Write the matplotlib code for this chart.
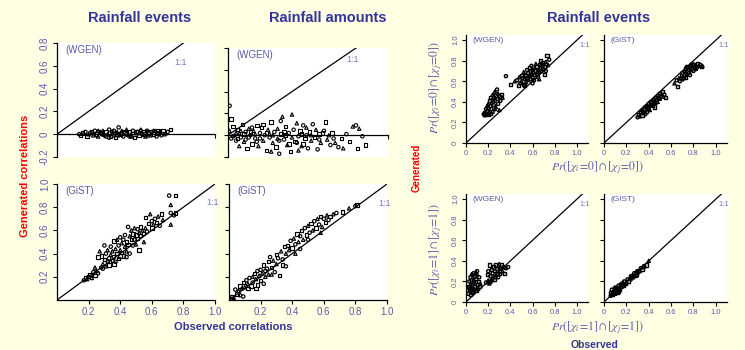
import matplotlib
matplotlib.use("Agg")
from matplotlib import pyplot as plt
from matplotlib.ticker import FuncFormatter
import numpy as np

plt.rcParams['font.family'] = ['Liberation Sans', 'DejaVu Sans']
plt.rcParams['mathtext.fontset'] = 'stix'

# ---- data ----
ev_wgen = [(0.14,0.00),(0.15,-0.01),(0.17,0.01),(0.18,0.02),(0.19,-0.02),(0.20,0.00),(0.21,0.01),(0.22,0.02),
           (0.23,-0.01),(0.24,0.03),(0.25,0.00),(0.26,-0.02),(0.27,0.02),(0.28,0.01),(0.29,0.03),(0.30,-0.01),
           (0.31,0.02),(0.32,0.00),(0.33,0.04),(0.34,-0.02),(0.35,0.01),(0.36,0.03),(0.37,-0.03),(0.38,0.02),
           (0.39,0.06),(0.40,0.00),(0.41,0.03),(0.42,-0.02),(0.43,0.01),(0.44,0.04),(0.45,-0.01),(0.46,0.02),
           (0.47,0.00),(0.48,0.03),(0.49,-0.03),(0.50,0.01),(0.51,0.02),(0.52,-0.01),(0.53,0.04),(0.54,0.00),
           (0.55,0.02),(0.56,-0.02),(0.57,0.03),(0.58,0.01),(0.59,-0.01),(0.60,0.02),(0.61,0.00),(0.62,0.03),
           (0.63,-0.02),(0.64,0.01),(0.65,0.02),(0.66,-0.01),(0.67,0.03),(0.68,0.00),(0.70,0.02),(0.72,0.04),
           (0.26,0.03),(0.33,-0.03),(0.41,0.01),(0.47,-0.02),(0.53,0.03),(0.58,0.02),(0.36,-0.01),(0.44,0.00),
           (0.50,0.02),(0.29,0.00),(0.39,-0.01),(0.55,0.00),(0.61,0.03),(0.35,0.02),(0.16,0.01),(0.23,0.01),
           (0.31,-0.02),(0.43,0.02),(0.52,0.01),(0.57,-0.01),(0.64,0.03),(0.69,0.01),(0.46,-0.02),(0.38,0.00)]

am_wgen = [(0.01,0.27),(0.02,0.15),(0.01,0.04),(0.02,-0.03),(0.03,0.08),(0.04,0.00),(0.05,-0.05),(0.06,0.05),
           (0.07,0.02),(0.08,-0.02),(0.09,0.10),(0.10,-0.06),(0.11,0.03),(0.12,-0.12),(0.13,0.06),(0.14,0.00),
           (0.15,-0.08),(0.16,0.04),(0.17,-0.03),(0.18,0.09),(0.19,-0.10),(0.20,0.02),(0.21,0.07),(0.22,-0.05),
           (0.23,0.00),(0.24,-0.14),(0.25,0.05),(0.26,-0.02),(0.27,0.12),(0.28,-0.07),(0.29,0.03),(0.30,-0.11),
           (0.31,0.06),(0.32,-0.17),(0.33,0.01),(0.34,0.17),(0.35,-0.04),(0.36,0.08),(0.37,-0.09),(0.38,0.02),
           (0.39,-0.15),(0.40,0.19),(0.41,0.05),(0.42,-0.06),(0.43,0.11),(0.44,-0.01),(0.45,0.04),(0.46,-0.10),
           (0.47,0.09),(0.48,-0.03),(0.49,0.07),(0.50,-0.12),(0.51,0.03),(0.52,-0.05),(0.53,0.10),(0.54,-0.02),
           (0.55,0.05),(0.56,-0.13),(0.57,0.01),(0.58,-0.07),(0.60,0.04),(0.61,0.12),(0.62,-0.04),(0.64,-0.09),
           (0.65,0.02),(0.67,-0.07),(0.69,-0.11),(0.71,-0.03),(0.72,-0.12),(0.74,0.01),(0.76,-0.06),(0.78,0.08),
           (0.80,0.09),(0.81,-0.12),(0.82,0.06),(0.84,-0.01),(0.86,-0.09),(0.07,-0.10),(0.15,0.07),(0.22,0.10),
           (0.27,-0.15),(0.33,0.13),(0.38,-0.08),(0.44,-0.14),(0.49,0.00),(0.36,0.00),(0.26,0.01),(0.18,-0.06),
           (0.10,0.01),(0.05,0.02),(0.13,-0.02),(0.47,-0.08),(0.31,-0.03),(0.03,-0.01),(0.06,-0.03),(0.08,0.04),
           (0.11,-0.04),(0.14,0.03),(0.17,0.01),(0.20,-0.03),(0.24,0.02),(0.28,0.00),(0.32,-0.05),(0.35,0.03),
           (0.40,-0.02),(0.43,-0.07),(0.46,0.01),(0.52,0.00),(0.57,-0.04),(0.59,0.02),(0.63,0.00),(0.66,-0.03)]

ev_gist = [(0.17,0.17),(0.18,0.19),(0.19,0.18),(0.20,0.20),(0.21,0.22),(0.22,0.19),(0.23,0.24),(0.24,0.21),
           (0.25,0.25),(0.26,0.23),(0.26,0.37),(0.27,0.42),(0.28,0.28),(0.28,0.38),(0.29,0.31),(0.30,0.47),
           (0.30,0.35),(0.31,0.29),(0.31,0.40),(0.32,0.33),(0.32,0.43),(0.33,0.36),(0.33,0.30),(0.34,0.39),
           (0.34,0.46),(0.35,0.34),(0.35,0.42),(0.36,0.37),(0.36,0.51),(0.37,0.44),(0.37,0.33),(0.38,0.40),
           (0.38,0.52),(0.39,0.47),(0.39,0.36),(0.40,0.43),(0.40,0.54),(0.41,0.41),(0.41,0.49),(0.42,0.52),
           (0.42,0.38),(0.43,0.46),(0.43,0.56),(0.44,0.50),(0.44,0.42),(0.45,0.63),(0.45,0.48),(0.46,0.55),
           (0.46,0.40),(0.47,0.52),(0.47,0.60),(0.48,0.47),(0.48,0.57),(0.49,0.62),(0.49,0.52),(0.50,0.56),
           (0.50,0.48),(0.51,0.61),(0.51,0.53),(0.52,0.58),(0.53,0.55),(0.53,0.63),(0.54,0.60),(0.55,0.57),
           (0.56,0.71),(0.56,0.62),(0.57,0.59),(0.58,0.66),(0.59,0.74),(0.60,0.68),(0.60,0.62),(0.61,0.65),
           (0.62,0.70),(0.63,0.67),(0.64,0.72),(0.65,0.64),(0.66,0.74),(0.67,0.69),(0.71,0.90),(0.75,0.90),
           (0.72,0.82),(0.72,0.75),(0.75,0.75),(0.72,0.65),(0.74,0.73),(0.52,0.43),(0.55,0.50),(0.44,0.37),
           (0.36,0.31),(0.24,0.28),(0.29,0.27),(0.40,0.38)]

am_gist = [(0.01,0.01),(0.02,0.03),(0.03,0.02),(0.04,0.09),(0.05,0.05),(0.06,0.08),(0.07,0.04),(0.07,0.12),
           (0.08,0.10),(0.09,0.03),(0.09,0.15),(0.10,0.11),(0.11,0.17),(0.12,0.10),(0.12,0.14),(0.13,0.19),
           (0.14,0.12),(0.15,0.20),(0.15,0.15),(0.16,0.23),(0.17,0.18),(0.18,0.25),(0.18,0.13),(0.19,0.21),
           (0.20,0.26),(0.20,0.17),(0.21,0.23),(0.22,0.14),(0.22,0.30),(0.23,0.20),(0.24,0.27),(0.25,0.33),
           (0.25,0.22),(0.26,0.37),(0.27,0.28),(0.28,0.34),(0.29,0.24),(0.30,0.39),(0.30,0.31),(0.31,0.36),
           (0.32,0.21),(0.33,0.42),(0.34,0.35),(0.35,0.46),(0.36,0.40),(0.36,0.29),(0.37,0.47),(0.38,0.43),
           (0.39,0.51),(0.40,0.45),(0.41,0.53),(0.42,0.48),(0.43,0.57),(0.44,0.50),(0.45,0.55),(0.46,0.60),
           (0.47,0.52),(0.48,0.62),(0.49,0.56),(0.50,0.64),(0.51,0.58),(0.52,0.66),(0.53,0.60),(0.54,0.68),
           (0.55,0.62),(0.56,0.70),(0.57,0.65),(0.58,0.72),(0.59,0.63),(0.60,0.70),(0.61,0.67),(0.62,0.73),
           (0.63,0.69),(0.64,0.72),(0.66,0.74),(0.68,0.75),(0.72,0.76),(0.76,0.79),(0.80,0.81),(0.81,0.82),
           (0.42,0.40),(0.50,0.52),(0.34,0.30),(0.27,0.22),(0.23,0.25),(0.17,0.10),(0.58,0.58),(0.45,0.44)]

pr00_wgen = [(0.16,0.28),(0.17,0.30),(0.17,0.27),(0.18,0.33),(0.18,0.29),(0.19,0.36),(0.19,0.31),(0.20,0.28),
             (0.20,0.38),(0.20,0.34),(0.21,0.41),(0.21,0.30),(0.22,0.36),(0.22,0.44),(0.23,0.39),(0.23,0.33),
             (0.24,0.42),(0.24,0.47),(0.25,0.37),(0.25,0.44),(0.26,0.50),(0.26,0.41),(0.27,0.46),(0.27,0.35),
             (0.28,0.52),(0.28,0.43),(0.29,0.48),(0.29,0.38),(0.30,0.45),(0.30,0.32),(0.31,0.41),(0.32,0.47),
             (0.33,0.44),(0.24,0.30),(0.22,0.29),(0.26,0.33),(0.36,0.65),(0.40,0.57),(0.44,0.60),
             (0.46,0.61),(0.47,0.56),(0.48,0.64),(0.49,0.58),(0.50,0.66),(0.50,0.60),(0.51,0.63),(0.52,0.57),
             (0.52,0.69),(0.53,0.62),(0.54,0.66),(0.54,0.59),(0.55,0.71),(0.55,0.64),(0.56,0.61),(0.56,0.68),
             (0.57,0.73),(0.57,0.65),(0.58,0.62),(0.58,0.70),(0.59,0.67),(0.59,0.75),(0.60,0.64),(0.60,0.71),
             (0.61,0.68),(0.61,0.62),(0.62,0.73),(0.62,0.66),(0.63,0.70),(0.63,0.77),(0.64,0.67),(0.64,0.74),
             (0.65,0.71),(0.65,0.64),(0.66,0.76),(0.66,0.69),(0.67,0.73),(0.67,0.80),(0.68,0.70),(0.68,0.75),
             (0.69,0.78),(0.70,0.72),(0.70,0.76),(0.71,0.74),(0.72,0.79),(0.72,0.70),(0.73,0.85),(0.74,0.76),
             (0.75,0.81),(0.71,0.67),(0.66,0.62),(0.60,0.58),(0.53,0.56)]

pr00_gist = [(0.30,0.25),(0.31,0.28),(0.32,0.26),(0.33,0.30),(0.34,0.27),(0.34,0.32),(0.35,0.29),(0.36,0.33),
             (0.36,0.30),(0.37,0.35),(0.38,0.31),(0.38,0.36),(0.39,0.33),(0.40,0.38),(0.40,0.34),(0.41,0.36),
             (0.42,0.40),(0.42,0.37),(0.43,0.39),(0.44,0.42),(0.44,0.36),(0.45,0.40),(0.46,0.44),(0.46,0.39),
             (0.47,0.42),(0.48,0.46),(0.48,0.40),(0.49,0.44),(0.50,0.48),(0.50,0.43),(0.51,0.46),(0.52,0.50),
             (0.53,0.45),(0.54,0.47),(0.55,0.44),(0.41,0.32),(0.37,0.28),(0.45,0.35),
             (0.63,0.58),(0.65,0.61),(0.66,0.55),(0.67,0.63),(0.68,0.60),(0.69,0.66),(0.70,0.62),(0.70,0.68),
             (0.71,0.64),(0.72,0.70),(0.72,0.66),(0.73,0.72),(0.74,0.67),(0.74,0.74),(0.75,0.70),(0.76,0.73),
             (0.76,0.68),(0.77,0.75),(0.78,0.71),(0.78,0.76),(0.79,0.73),(0.80,0.77),(0.80,0.70),(0.81,0.74),
             (0.82,0.76),(0.83,0.73),(0.84,0.77),(0.85,0.75),(0.86,0.76),(0.87,0.74),(0.88,0.75),(0.77,0.66),
             (0.73,0.64),(0.82,0.72),(0.69,0.63)]

pr11_wgen = [(0.02,0.08),(0.02,0.15),(0.03,0.11),(0.03,0.20),(0.04,0.07),(0.04,0.17),(0.04,0.24),(0.05,0.10),
             (0.05,0.14),(0.05,0.21),(0.06,0.09),(0.06,0.18),(0.06,0.26),(0.07,0.12),(0.07,0.22),(0.07,0.28),
             (0.08,0.15),(0.08,0.19),(0.08,0.25),(0.09,0.11),(0.09,0.29),(0.09,0.22),(0.10,0.17),(0.10,0.27),
             (0.10,0.30),(0.11,0.20),(0.11,0.13),(0.12,0.24),(0.12,0.15),(0.13,0.18),(0.03,0.13),(0.06,0.13),
             (0.05,0.27),
             (0.18,0.19),(0.19,0.27),(0.20,0.21),(0.20,0.30),(0.21,0.36),(0.21,0.18),(0.22,0.25),(0.23,0.32),
             (0.23,0.21),(0.24,0.28),(0.25,0.34),(0.25,0.24),(0.26,0.30),(0.27,0.36),(0.27,0.26),(0.28,0.32),
             (0.28,0.28),(0.29,0.35),(0.29,0.24),(0.30,0.30),(0.31,0.33),(0.31,0.27),(0.32,0.36),(0.33,0.30),
             (0.34,0.34),(0.35,0.28),(0.36,0.33),(0.38,0.34),(0.26,0.22),(0.30,0.37),(0.22,0.19)]

pr11_gist = [(0.06,0.06),(0.06,0.09),(0.07,0.08),(0.07,0.12),(0.08,0.07),(0.08,0.10),(0.09,0.09),(0.09,0.13),
             (0.10,0.08),(0.10,0.11),(0.11,0.10),(0.11,0.14),(0.12,0.12),(0.12,0.09),(0.13,0.13),(0.13,0.16),
             (0.14,0.12),(0.14,0.15),(0.15,0.14),(0.15,0.17),(0.16,0.15),(0.16,0.18),(0.17,0.16),(0.18,0.17),
             (0.18,0.20),(0.19,0.18),(0.20,0.19),(0.21,0.22),(0.22,0.20),(0.23,0.23),(0.24,0.22),(0.25,0.26),
             (0.26,0.24),(0.27,0.28),(0.28,0.26),(0.29,0.30),(0.30,0.28),(0.31,0.31),(0.32,0.30),(0.33,0.33),
             (0.34,0.32),(0.35,0.35),(0.36,0.34),(0.38,0.36),(0.40,0.40),(0.10,0.14),(0.13,0.10),(0.17,0.19),
             (0.24,0.25),(0.29,0.27)]

BG = '#FFFFE4'
TXT = '#5A5AA6'
TITLE = '#333399'
W, H = 745, 350

fig = plt.figure(figsize=(7.45, 3.5), dpi=100, facecolor=BG)


def px_axes(l, t, r, b):
    return fig.add_axes([l / W, 1 - b / H, (r - l) / W, (b - t) / H])


def fmt(v, pos):
    return '0' if abs(v) < 1e-9 else f'{v:.1f}'


def draw(ax, pts, ms, lw):
    pts = np.array(pts)
    for k, m in enumerate(['o', 's', '^']):
        sub = pts[k::3]
        ax.scatter(sub[:, 0], sub[:, 1], s=ms, marker=m, facecolors='none',
                   edgecolors='black', linewidths=lw, zorder=3)


def style(ax, xlim, ylim, yticks, xticks, ylabels, xlabels, fs, zero_axis=False):
    ax.set_facecolor('white')
    ax.set_xlim(*xlim)
    ax.set_ylim(*ylim)
    for s in ['top', 'right']:
        ax.spines[s].set_visible(False)
    ax.spines['left'].set_linewidth(0.9)
    ax.spines['bottom'].set_linewidth(0.9)
    if zero_axis:
        ax.spines['bottom'].set_position(('data', 0))
        ax.spines['bottom'].set_bounds(0, 1.0)
    ax.set_yticks(yticks)
    ax.set_xticks(xticks)
    ax.yaxis.set_major_formatter(FuncFormatter(fmt))
    ax.xaxis.set_major_formatter(FuncFormatter(fmt))
    ax.tick_params(length=3, width=0.8, colors='black', labelcolor=TXT, labelsize=fs, pad=2)
    ax.tick_params(axis='y', labelrotation=90)
    for lab in ax.get_yticklabels():
        lab.set_va('center')
    if not ylabels:
        ax.set_yticklabels([])
    if not xlabels:
        ax.set_xticklabels([])
    ax.plot([0, 1.2], [0, 1.2], color='black', lw=0.9, zorder=2)


# left block
a1 = px_axes(57, 43, 215, 157)
a2 = px_axes(228, 48, 388, 157)
a3 = px_axes(57, 184, 215, 300)
a4 = px_axes(229, 184, 387, 300)
# right block
a5 = px_axes(466, 35, 588, 143)
a6 = px_axes(604, 35, 727, 143)
a7 = px_axes(466, 194, 588, 302)
a8 = px_axes(604, 194, 727, 302)

yt_top = [-0.2, 0, 0.2, 0.4, 0.6, 0.8]
style(a1, (0, 1.0), (-0.2, 0.8), yt_top, [1.0], True, False, 7, zero_axis=True)
style(a2, (0, 1.0), (-0.2, 0.8), yt_top, [1.0], False, False, 7, zero_axis=True)
yt_bot = [0.2, 0.4, 0.6, 0.8, 1.0]
style(a3, (0, 1.0), (0, 1.0), yt_bot, yt_bot, True, True, 7)
style(a4, (0, 1.0), (0, 1.0), yt_bot, yt_bot, False, True, 7)
yt_r = [0, 0.2, 0.4, 0.6, 0.8, 1.0]
style(a5, (0, 1.1), (0, 1.05), yt_r, yt_r, True, True, 5.5)
style(a6, (0, 1.1), (0, 1.05), yt_r, yt_r, False, True, 5.5)
style(a7, (0, 1.1), (0, 1.05), yt_r, yt_r, True, True, 5.5)
style(a8, (0, 1.1), (0, 1.05), yt_r, yt_r, False, True, 5.5)

draw(a1, ev_wgen, 6, 0.85)
draw(a2, am_wgen, 6, 0.8)
draw(a3, ev_gist, 6, 0.85)
draw(a4, am_gist, 6, 0.85)
draw(a5, pr00_wgen, 5, 1.0)
draw(a6, pr00_gist, 5, 1.0)
draw(a7, pr11_wgen, 5, 1.0)
draw(a8, pr11_gist, 5, 1.0)

# panel tags and 1:1 labels
for ax, tag, fs in [(a1, '(WGEN)', 7), (a2, '(WGEN)', 7), (a3, '(GiST)', 7), (a4, '(GiST)', 7),
                    (a5, '(WGEN)', 6), (a6, '(GiST)', 6), (a7, '(WGEN)', 6), (a8, '(GIST)', 6)]:
    ax.text(0.05, 0.985, tag, transform=ax.transAxes, ha='left', va='top', color=TXT, fontsize=fs)

a1.text(0.78, 0.63, '1:1', color='#7777BB', fontsize=6.5, ha='center', va='center')
a2.text(0.78, 0.69, '1:1', color='#7777BB', fontsize=6.5, ha='center', va='center')
a3.text(0.985, 0.84, '1:1', color='#7777BB', fontsize=6.5, ha='center', va='center', clip_on=False)
a4.text(0.985, 0.83, '1:1', color='#7777BB', fontsize=6.5, ha='center', va='center', clip_on=False)
for ax in [a5, a6, a7, a8]:
    ax.text(1.07, 0.95, '1:1', color='#7777BB', fontsize=5.5, ha='center', va='center', clip_on=False)

# titles and axis labels
fig.text(140 / W, 1 - 18 / H, 'Rainfall events', ha='center', va='center',
         fontsize=10.5, fontweight='bold', color=TITLE)
fig.text(328 / W, 1 - 18 / H, 'Rainfall amounts', ha='center', va='center',
         fontsize=10.5, fontweight='bold', color=TITLE)
fig.text(599 / W, 1 - 18 / H, 'Rainfall events', ha='center', va='center',
         fontsize=10.5, fontweight='bold', color=TITLE)
fig.text(25 / W, 1 - 176 / H, 'Generated correlations', rotation=90, ha='center', va='center',
         fontsize=8, fontweight='bold', color='red')
fig.text(233 / W, 1 - 327 / H, 'Observed correlations', ha='center', va='center',
         fontsize=8, fontweight='bold', color=TITLE)
fig.text(417 / W, 1 - 168 / H, 'Generated', rotation=90, ha='center', va='center',
         fontsize=7, fontweight='bold', color='red')
fig.text(595 / W, 1 - 345 / H, 'Observed', ha='center', va='center',
         fontsize=7.5, fontweight='bold', color=TITLE)

lab00 = r'$Pr([\chi_i\!=\!0]\cap[\chi_j\!=\!0])$'
lab11 = r'$Pr([\chi_i\!=\!1]\cap[\chi_j\!=\!1])$'
fig.text(597 / W, 1 - 168 / H, lab00, ha='center', va='center', fontsize=8.5, color=TXT)
fig.text(597 / W, 1 - 328 / H, lab11, ha='center', va='center', fontsize=8.5, color=TXT)
fig.text(436 / W, 1 - 88 / H, lab00, rotation=90, ha='center', va='center', fontsize=8.5, color=TXT)
fig.text(436 / W, 1 - 250 / H, lab11, rotation=90, ha='center', va='center', fontsize=8.5, color=TXT)

fig.savefig('out.png', dpi=100, facecolor=BG)
